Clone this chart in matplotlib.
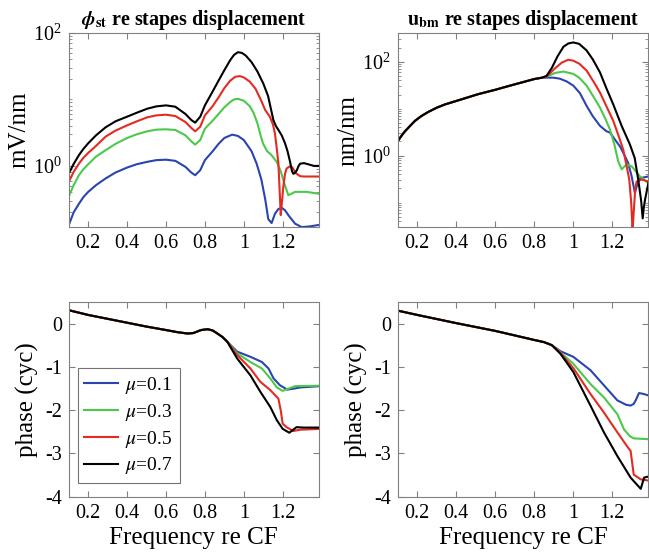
import matplotlib
matplotlib.use("Agg")
import matplotlib.pyplot as plt
from matplotlib.ticker import FixedLocator, FormatStrFormatter, LogLocator, NullFormatter

plt.rcParams['font.family'] = ['Liberation Serif', 'DejaVu Serif']
plt.rcParams['mathtext.fontset'] = 'stix'
plt.rcParams['axes.unicode_minus'] = False

# ------------------------- Data -------------------------
mu_labels = [r'$\mu$=0.1', r'$\mu$=0.3', r'$\mu$=0.5', r'$\mu$=0.7']
colors = ['#2a44b0', '#4cc84a', '#e32b22', '#000000']

# phi_st magnitude (mV/nm), shared low-frequency x grid + per-mu tails
phi_x_low = [0.10, 0.125, 0.152, 0.175, 0.20, 0.24, 0.289, 0.34, 0.40, 0.45, 0.503, 0.55, 0.60,
             0.648, 0.70, 0.73, 0.75, 0.776, 0.80, 0.84, 0.87, 0.90]
phi_m_low_blue = [0.129, 0.20, 0.269, 0.339, 0.407, 0.513, 0.646, 0.794, 0.944, 1.06, 1.15, 1.22, 1.24,
                  1.19, 0.966, 0.794, 0.724, 0.861, 1.22, 1.66, 2.14, 2.63]
phi_m_low_green = [0.347, 0.513, 0.724, 0.891, 1.06, 1.38, 1.72, 2.14, 2.63, 2.99, 3.31, 3.51, 3.55,
                   3.47, 2.88, 2.34, 2.09, 2.45, 3.63, 4.79, 6.03, 7.59]
phi_m_low_red = [0.575, 0.813, 1.08, 1.32, 1.57, 2.00, 2.75, 3.39, 4.07, 4.68, 5.37, 5.75, 5.89,
                 5.62, 4.57, 3.72, 3.31, 3.89, 5.75, 7.94, 10.7, 14.8]
phi_m_low_black = [0.766, 1.07, 1.45, 1.80, 2.19, 2.88, 3.80, 4.68, 5.50, 6.31, 7.24, 7.85, 8.13,
                   7.76, 6.03, 4.90, 4.47, 5.50, 8.13, 13.2, 19.1, 27.5]

phi_x_blue = [0.94, 0.97, 1.0, 1.04, 1.066, 1.09, 1.11, 1.126, 1.143, 1.16, 1.178, 1.195, 1.212, 1.23,
              1.264, 1.298, 1.34, 1.39]
phi_m_blue = [2.95, 2.82, 2.45, 1.66, 1.08, 0.63, 0.316, 0.158, 0.138, 0.19, 0.225, 0.234, 0.215, 0.18,
              0.135, 0.12, 0.123, 0.13]
phi_x_green = [0.93, 0.95, 0.97, 1.0, 1.03, 1.05, 1.07, 1.09, 1.10, 1.12, 1.14, 1.169, 1.19, 1.21,
               1.229, 1.245, 1.264, 1.32, 1.39]
phi_m_green = [9.12, 10.0, 10.2, 9.55, 7.94, 6.31, 4.37, 2.63, 2.14, 1.66, 1.48, 1.15, 0.83, 0.525,
               0.363, 0.38, 0.407, 0.407, 0.38]
phi_x_red = [0.93, 0.956, 0.98, 1.0, 1.03, 1.06, 1.09, 1.11, 1.134, 1.15, 1.16, 1.17, 1.178, 1.184,
             1.19, 1.196, 1.203, 1.212, 1.22, 1.235, 1.247, 1.26, 1.272, 1.29, 1.31, 1.39]
phi_m_red = [19.1, 21.9, 22.4, 21.4, 18.6, 14.5, 9.55, 6.92, 5.50, 4.17, 3.09, 1.78, 1.08, 0.447,
             0.182, 0.282, 0.479, 0.759, 0.912, 0.977, 0.966, 0.851, 0.759, 0.70, 0.692, 0.692]
phi_x_black = [0.93, 0.95, 0.97, 0.99, 1.01, 1.04, 1.07, 1.10, 1.125, 1.14, 1.152, 1.165, 1.178, 1.195,
               1.212, 1.225, 1.238, 1.248, 1.255, 1.262, 1.272, 1.282, 1.29, 1.31, 1.33, 1.36, 1.39]
phi_m_black = [38.9, 46.8, 51.3, 50.1, 45.7, 36.3, 26.3, 17.4, 11.2, 7.08, 4.90, 3.98, 3.47, 2.88,
               2.19, 1.66, 1.15, 0.83, 0.76, 0.78, 0.85, 1.0, 1.08, 1.10, 1.06, 1.0, 1.0]

# u_bm magnitude (nm/nm): shared low-frequency part, then per-mu tails
ubm_x_common = [0.10, 0.12, 0.137, 0.16, 0.188, 0.22, 0.256, 0.30, 0.342, 0.427, 0.513, 0.598, 0.684,
                0.80, 0.84]
ubm_m_common = [2.04, 2.69, 3.31, 4.17, 5.50, 6.92, 8.51, 10.5, 12.3, 15.8, 20.4, 25.1, 31.6,
                42.7, 45.7]
ubm_x_blue = [0.863, 0.897, 0.93, 0.966, 1.0, 1.034, 1.068, 1.10, 1.137, 1.17, 1.188, 1.21, 1.239, 1.26,
              1.282, 1.30, 1.316, 1.33, 1.342, 1.385]
ubm_m_blue = [45.7, 45.7, 43.6, 38.0, 31.0, 21.4, 11.5, 6.9, 4.3, 3.3, 3.1, 2.3, 1.58, 1.07,
              0.69, 0.35, 0.16, 0.26, 0.33, 0.36]
ubm_x_green = [0.863, 0.906, 0.949, 1.0, 1.03, 1.068, 1.10, 1.137, 1.165, 1.188, 1.21, 1.23, 1.248, 1.273,
               1.30, 1.342, 1.385]
ubm_m_green = [48.0, 57.5, 61.7, 55.0, 45.7, 31.0, 19.0, 10.5, 6.0, 3.6, 1.78, 0.76, 0.51, 0.65,
               0.59, 0.36, 0.26]
ubm_x_red = [0.863, 0.906, 0.94, 0.974, 1.0, 1.03, 1.068, 1.10, 1.137, 1.17, 1.205, 1.23, 1.256, 1.275,
             1.287, 1.297, 1.304, 1.31, 1.318, 1.325, 1.35, 1.385]
ubm_m_red = [48.0, 72.0, 95.0, 110.0, 105.0, 91.0, 65.0, 40.0, 22.0, 11.2, 5.5, 2.8, 1.35, 0.56,
             0.31, 0.10, 0.025, 0.063, 0.20, 0.28, 0.31, 0.28]
ubm_x_black = [0.863, 0.89, 0.92, 0.95, 0.975, 1.0, 1.03, 1.068, 1.10, 1.137, 1.17, 1.205, 1.248, 1.29,
               1.315, 1.333, 1.348, 1.356, 1.362, 1.368, 1.385]
ubm_m_black = [50.0, 74.0, 132.0, 209.0, 245.0, 257.0, 240.0, 174.0, 112.0, 59.0, 27.0, 12.3, 4.3, 1.74,
               0.89, 0.31, 0.11, 0.046, 0.079, 0.115, 0.26]

# phi_st phase (cycles)
phph_x_common = [0.10, 0.20, 0.30, 0.40, 0.50, 0.60, 0.66, 0.71, 0.74, 0.78, 0.814, 0.84, 0.864, 0.89, 0.915]
phph_p_common = [0.32, 0.21, 0.12, 0.03, -0.06, -0.14, -0.19, -0.22, -0.21, -0.14, -0.12, -0.15, -0.22, -0.30, -0.41]
phph_x_blue = [0.966, 1.034, 1.093, 1.127, 1.153, 1.186, 1.224, 1.254, 1.29, 1.39]
phph_p_blue = [-0.64, -0.76, -0.88, -1.03, -1.26, -1.42, -1.52, -1.50, -1.47, -1.44]
phph_x_green = [0.966, 1.034, 1.093, 1.136, 1.17, 1.20, 1.229, 1.263, 1.39]
phph_p_green = [-0.68, -0.88, -1.03, -1.26, -1.47, -1.55, -1.50, -1.44, -1.43]
phph_x_red = [0.966, 1.034, 1.085, 1.136, 1.178, 1.19, 1.20, 1.22, 1.254, 1.288, 1.39]
phph_p_red = [-0.72, -1.03, -1.34, -1.53, -1.73, -2.00, -2.31, -2.39, -2.48, -2.45, -2.43]
phph_x_black = [0.966, 1.034, 1.085, 1.136, 1.17, 1.20, 1.234, 1.254, 1.271, 1.305, 1.39]
phph_p_black = [-0.80, -1.19, -1.57, -1.92, -2.23, -2.43, -2.52, -2.45, -2.39, -2.40, -2.40]

# u_bm phase (cycles)
ubph_x_common = [0.10, 0.20, 0.40, 0.60, 0.80, 0.85, 0.89]
ubph_p_common = [0.31, 0.21, 0.02, -0.16, -0.37, -0.42, -0.49]
ubph_x_blue = [0.934, 1.0, 1.088, 1.157, 1.226, 1.27, 1.294, 1.31, 1.32, 1.337, 1.36, 1.389]
ubph_p_blue = [-0.63, -0.76, -1.07, -1.42, -1.77, -1.87, -1.89, -1.85, -1.77, -1.60, -1.62, -1.66]
ubph_x_green = [0.934, 1.0, 1.088, 1.157, 1.226, 1.26, 1.29, 1.31, 1.389]
ubph_p_green = [-0.66, -0.92, -1.39, -1.70, -2.09, -2.44, -2.60, -2.65, -2.67]
ubph_x_red = [0.934, 1.0, 1.088, 1.157, 1.226, 1.28, 1.294, 1.31, 1.346, 1.389]
ubph_p_red = [-0.67, -1.02, -1.62, -2.05, -2.51, -2.86, -2.94, -3.49, -3.60, -3.63]
ubph_x_black = [0.934, 1.0, 1.088, 1.157, 1.226, 1.294, 1.346, 1.363, 1.389]
ubph_p_black = [-0.69, -1.11, -1.89, -2.51, -3.06, -3.56, -3.82, -3.56, -3.53]

x_ticks = [0.2, 0.4, 0.6, 0.8, 1.0, 1.2]
phase_ticks = [0, -1, -2, -3, -4]


# ------------------------- Helpers -------------------------
def style_axes(ax):
    for s in ax.spines.values():
        s.set_color('0.5')
        s.set_linewidth(0.8)
    ax.tick_params(which='both', direction='in', top=True, right=True, color='0.5',
                   labelsize=14.5, pad=5)
    ax.tick_params(which='major', length=4)
    ax.tick_params(which='minor', length=2)
    ax.set_xlim(0.1, 1.385)
    ax.xaxis.set_major_locator(FixedLocator(x_ticks))
    ax.xaxis.set_major_formatter(FormatStrFormatter('%g'))


def log_axes(ax, ylim):
    ax.set_yscale('log')
    ax.set_ylim(*ylim)
    ax.yaxis.set_major_locator(LogLocator(base=100, numticks=10))
    ax.yaxis.set_minor_locator(LogLocator(base=10, subs=range(1, 10), numticks=30))
    ax.yaxis.set_minor_formatter(NullFormatter())


def phase_axes(ax):
    ax.set_ylim(-4, 0.5)
    ax.yaxis.set_major_locator(FixedLocator(phase_ticks))
    ax.yaxis.set_major_formatter(FormatStrFormatter('%g'))
    ax.set_ylabel('phase (cyc)', fontsize=18, labelpad=4)
    ax.set_xlabel('Frequency re CF', fontsize=18, labelpad=3)


fig = plt.figure(figsize=(6.49, 5.58), dpi=100)
ax1 = fig.add_axes([0.106, 0.593, 0.385, 0.348])
ax2 = fig.add_axes([0.613, 0.593, 0.386, 0.348])
ax3 = fig.add_axes([0.106, 0.110, 0.385, 0.348])
ax4 = fig.add_axes([0.613, 0.110, 0.386, 0.348])

lw = 1.5

# phi_st magnitude
for lows, xs, ys, c in zip([phi_m_low_blue, phi_m_low_green, phi_m_low_red, phi_m_low_black],
                           [phi_x_blue, phi_x_green, phi_x_red, phi_x_black],
                           [phi_m_blue, phi_m_green, phi_m_red, phi_m_black], colors):
    ax1.plot(phi_x_low + xs, lows + ys, color=c, lw=lw)
style_axes(ax1)
log_axes(ax1, (0.12, 100))
ax1.set_ylabel('mV/nm', fontsize=18, labelpad=2)
ax1.set_title(r'$\mathbfit{\phi}_{\mathbf{st}}$ re stapes displacement', fontsize=14.5,
              fontweight='bold', pad=6)

# u_bm magnitude
for xs, ys, c in zip([ubm_x_blue, ubm_x_green, ubm_x_red, ubm_x_black],
                     [ubm_m_blue, ubm_m_green, ubm_m_red, ubm_m_black], colors):
    ax2.plot(ubm_x_common + xs, ubm_m_common + ys, color=c, lw=lw)
style_axes(ax2)
log_axes(ax2, (0.03, 410))
ax2.set_ylabel('nm/nm', fontsize=18, labelpad=2)
ax2.set_title(r'$\mathbf{u}_{\mathbf{bm}}$ re stapes displacement', fontsize=14.5,
              fontweight='bold', pad=6)

# phi_st phase
for xs, ys, c, lab in zip([phph_x_blue, phph_x_green, phph_x_red, phph_x_black],
                          [phph_p_blue, phph_p_green, phph_p_red, phph_p_black], colors, mu_labels):
    ax3.plot(phph_x_common + xs, phph_p_common + ys, color=c, lw=lw, label=lab)
style_axes(ax3)
phase_axes(ax3)
leg = ax3.legend(loc='lower left', bbox_to_anchor=(0.035, 0.069), borderaxespad=0,
                 fontsize=14, labelspacing=0.3, handlelength=1.75, handletextpad=0.35,
                 borderpad=0.35, fancybox=False, framealpha=1)
leg.get_frame().set_edgecolor('0.45')
leg.get_frame().set_linewidth(0.8)

# u_bm phase
for xs, ys, c in zip([ubph_x_blue, ubph_x_green, ubph_x_red, ubph_x_black],
                     [ubph_p_blue, ubph_p_green, ubph_p_red, ubph_p_black], colors):
    ax4.plot(ubph_x_common + xs, ubph_p_common + ys, color=c, lw=lw)
style_axes(ax4)
phase_axes(ax4)

fig.savefig('out.png', dpi=100)
